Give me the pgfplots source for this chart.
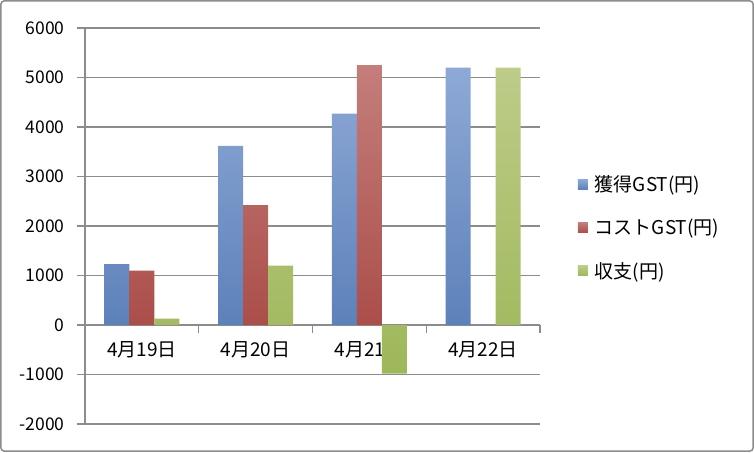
\documentclass[border=0pt]{standalone}
\usepackage{pgfplots}
\pgfplotsset{compat=1.18}
\usepackage{fontspec}
\setmainfont{Noto Sans CJK JP}

\definecolor{gridgray}{RGB}{140,140,140}
\definecolor{bluetop}{RGB}{142,169,214}
\definecolor{bluebot}{RGB}{93,129,186}
\definecolor{redtop}{RGB}{196,126,123}
\definecolor{redbot}{RGB}{171,78,74}
\definecolor{greentop}{RGB}{189,204,136}
\definecolor{greenbot}{RGB}{158,183,90}

\begin{document}
\begin{tikzpicture}[font=\fontsize{19}{22}\selectfont]
% whole picture: 754 x 452, axis box placed at its inner origin
\useasboundingbox (-85pt,-28pt) rectangle (669pt,424pt);
\draw[gridgray, line width=1.5pt, rounded corners=3pt] (-84pt,-27pt) rectangle (668pt,423pt);

\begin{axis}[
    at={(0pt,0pt)}, anchor=south west,
    scale only axis,
    width=455pt, height=396pt,
    xmin=-0.5, xmax=3.5,
    ymin=-2000, ymax=6000,
    ytick distance=1000,
    axis x line=middle,
    axis y line=left,
    axis line style={-, gridgray, line width=1.2pt},
    hide obscured x ticks=false,
    hide obscured y ticks=false,
    xtick={-0.5,0.5,1.5,2.5,3.5},
    xticklabels={,,,,},
    extra x ticks={0,1,2,3},
    extra x tick labels={4月19日,4月20日,4月21日,4月22日},
    extra x tick style={major tick length=0pt, xticklabel style={yshift=-13pt}},
    tick align=outside,
    major tick length=8pt,
    tick style={gridgray, line width=1.2pt},
    ymajorgrids=true,
    grid style={gridgray, line width=1.2pt},
    yticklabel style={xshift=-9pt, font=\fontsize{17.5}{20}\selectfont},
    /pgf/number format/assume math mode=true,
    /pgf/number format/1000 sep={},
    ybar=0pt,
    bar width=25pt,
    legend style={at={(1.083,0.633)}, anchor=north west, draw=none, fill=none,
        inner sep=0pt, row sep=22pt, /tikz/every odd column/.style={column sep=5pt}},
    legend cell align=left,
]
\addplot[draw=none, top color=bluetop, bottom color=bluebot,
    legend image code/.code={\fill[bluetop!60!bluebot] (0pt,-5pt) rectangle (10pt,5pt);}]
    coordinates {(0,1230) (1,3620) (2,4270) (3,5200)};
\addplot[draw=none, top color=redtop, bottom color=redbot,
    legend image code/.code={\fill[redtop!60!redbot] (0pt,-5pt) rectangle (10pt,5pt);}]
    coordinates {(0,1100) (1,2420) (2,5250)};
\addplot[draw=none, top color=greentop, bottom color=greenbot,
    legend image code/.code={\fill[greentop!60!greenbot] (0pt,-5pt) rectangle (10pt,5pt);}]
    coordinates {(0,130) (1,1200) (2,-980) (3,5200)};
\legend{獲得GST(円), コストGST(円), 収支(円)}
\end{axis}
\end{tikzpicture}
\end{document}
